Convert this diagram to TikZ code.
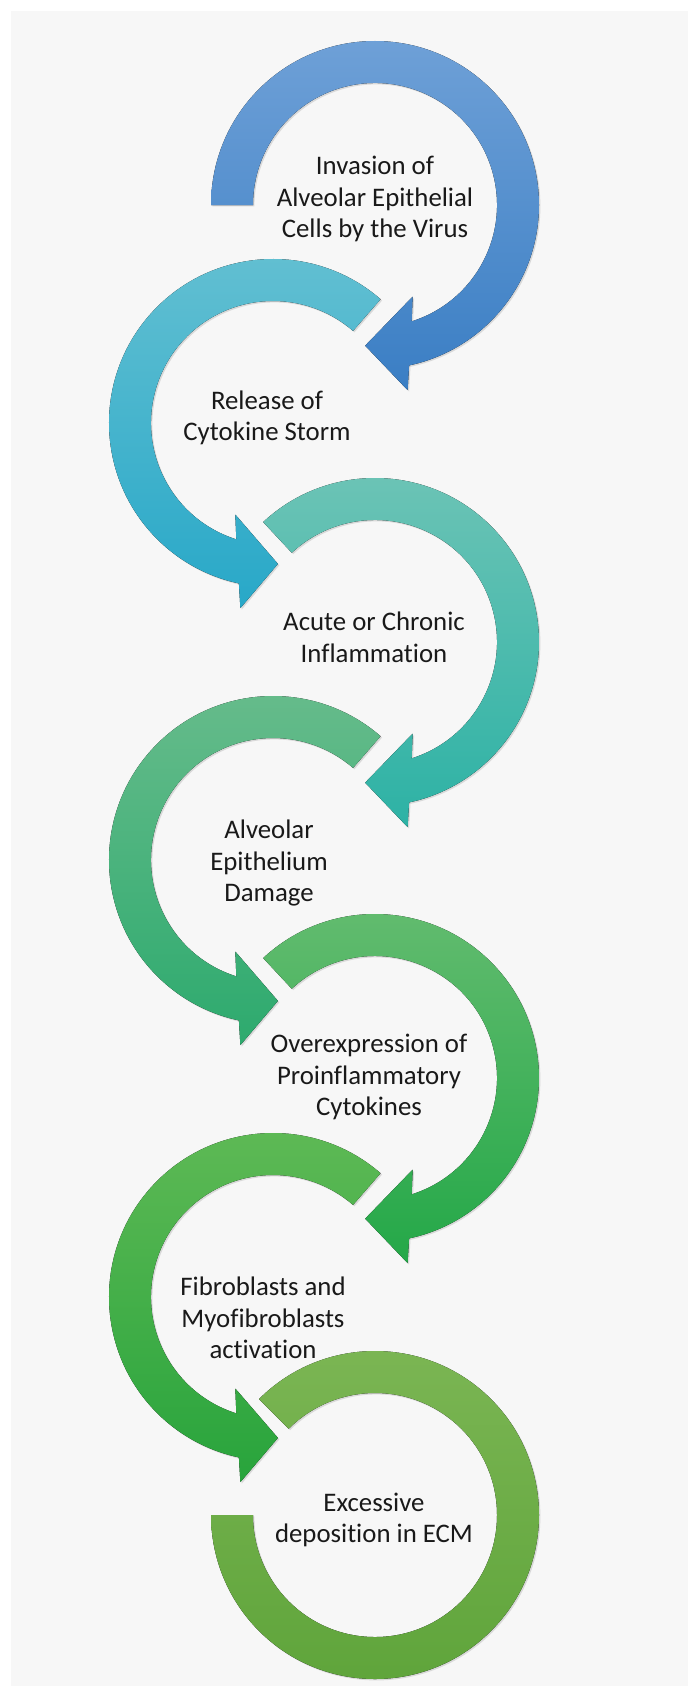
\documentclass[tikz,border=0pt]{standalone}
\usepackage{fontspec}
\setmainfont{Carlito}[Ligatures={NoCommon,NoContextual}]
\usepackage{tikz}
\usetikzlibrary{shadows}
\definecolor{panelgrey}{RGB}{247,247,247}
\definecolor{blueA}{RGB}{110,160,215}
\definecolor{blueB}{RGB}{58,126,196}
\definecolor{cyanA}{RGB}{100,192,210}
\definecolor{cyanB}{RGB}{40,168,200}
\definecolor{tealA}{RGB}{110,196,182}
\definecolor{tealB}{RGB}{45,178,165}
\definecolor{seaA}{RGB}{104,188,140}
\definecolor{seaB}{RGB}{45,170,110}
\definecolor{greenA}{RGB}{100,188,112}
\definecolor{greenB}{RGB}{36,168,72}
\definecolor{leafA}{RGB}{96,186,86}
\definecolor{leafB}{RGB}{40,164,60}
\definecolor{oliveA}{RGB}{124,182,84}
\definecolor{oliveB}{RGB}{94,164,58}

\begin{document}
\begin{tikzpicture}[x=0.5pt,y=0.5pt,
    lbl/.style={align=center,font=\fontsize{13.4}{15.8}\selectfont,text=black!90},
    ring/.style 2 args={top color=#1,bottom color=#2,
        drop shadow={shadow xshift=0.7pt,shadow yshift=-0.7pt,opacity=0.25}}]
    % Background
    \fill[white] (0,0) rectangle (688,-1686);
    \fill[panelgrey] (11,-11) rectangle (688,-1686);
    \useasboundingbox (0,0) rectangle (688,-1686);

    % Arrows (right ones turn clockwise, left ones the other way)
    \foreach \cx/\cy/\sa/\eo/\bo/\ta/\bi/\ei/\ca/\cb in {
        375/205/180/-78/-80/-94/-67.6/-72.5/blueA/blueB,
        273/423/49/258/260/272/247.6/252.5/cyanA/cyanB,
        375/642/133/-78/-80/-94/-67.6/-72.5/tealA/tealB,
        273/860/49/258/260/272/247.6/252.5/seaA/seaB,
        375/1078/133/-78/-80/-94/-67.6/-72.5/greenA/greenB,
        273/1297/49/258/260/272/247.6/252.5/leafA/leafB} {
        \begin{scope}[shift={(\cx,-\cy)}]
            \fill[ring={\ca}{\cb}] (\sa:164) arc[start angle=\sa,end angle=\eo,radius=164]
                -- (\bo:188) -- (\ta:141) -- (\bi:99) -- (\ei:122)
                arc[start angle=\ei,end angle=\sa,radius=122] -- cycle;
        \end{scope}
    }

    % Last ring
    \begin{scope}[shift={(375,-1515)}]
        \fill[ring={oliveA}{oliveB}] (135:164) arc[start angle=135,end angle=-180,radius=164]
            -- (-180:122) arc[start angle=-180,end angle=135,radius=122] -- cycle;
    \end{scope}

    % Labels
    \node[lbl] (invasion) at (375,-199) {Invasion of\\Alveolar Epithelial\\Cells by the Virus};
    \node[lbl] (release) at (267,-418) {Release of\\Cytokine Storm};
    \node[lbl] (acute) at (374,-637) {Acute or Chronic\\Inflammation};
    \node[lbl] (damage) at (269,-863) {Alveolar\\Epithelium\\Damage};
    \node[lbl] (overexp) at (369,-1077) {Overexpression of\\Proinflammatory\\Cytokines};
    \node[lbl] (fibro) at (263,-1318) {Fibroblasts and\\Myofibroblasts\\activation};
    \node[lbl] (excess) at (374,-1520) {Excessive\\deposition in ECM};
\end{tikzpicture}
\end{document}
